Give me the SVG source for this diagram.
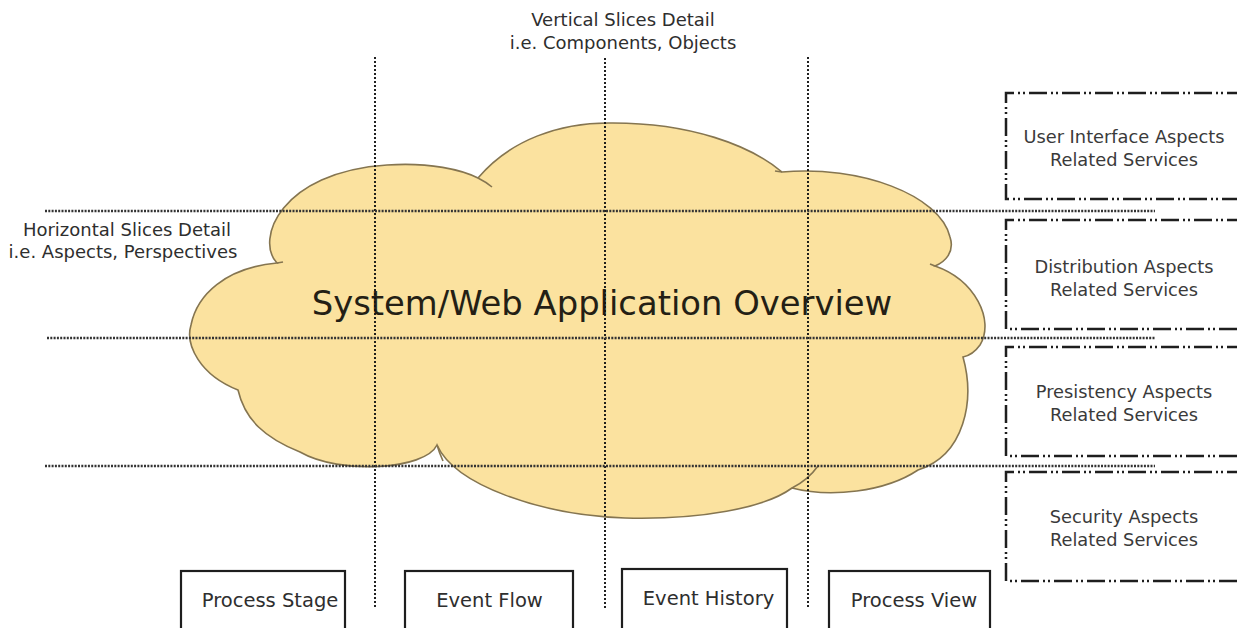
<svg xmlns="http://www.w3.org/2000/svg" width="1237" height="628" viewBox="0 0 1237 628">
<style>
text{font-family:"DejaVu Sans","Liberation Sans",sans-serif;fill:#2e2e2e;}
.small{font-size:18px;text-anchor:middle;}
.box{font-size:17.8px;text-anchor:middle;fill:#3a3a3a;}
.btm{font-size:19.5px;text-anchor:middle;fill:#2e2e2e;}
.title{font-size:33.8px;text-anchor:middle;fill:#241f15;}
.cloud{fill:#FBE29F;stroke:#857550;stroke-width:1.6;}
.tail{fill:none;stroke:#857550;stroke-width:1.6;}
.dd{fill:none;stroke:#1e1e1e;stroke-width:2.5;stroke-dasharray:18 4 2 3 2 4;}
.solid{fill:#fff;stroke:#1e1e1e;stroke-width:2.2;}
.vdot{stroke:#151515;stroke-width:1.9;stroke-dasharray:2 2;fill:none;}
.hdot{stroke:#333;stroke-width:2.3;stroke-dasharray:2 1.3;fill:none;}
</style>
<rect width="1237" height="628" fill="#fff"/>
<g id="cloud">
<path class="cloud" d="M277,263 C255,240 280,172 387,165 C430,162 462,170 478,178 C510,140 560,122 613,123 C690,123 750,145 782,172 C860,165 940,195 950,237 C955,252 945,262 935,266 C975,280 995,320 980,345 C975,352 968,356 963,357 C975,400 965,455 918,470 C885,492 830,498 792,488 C765,508 700,520 625,518 C540,515 455,485 437,445 C425,470 340,475 300,452 C265,438 245,420 238,390 C200,375 185,345 191,325 C197,295 225,268 277,263 Z"/>
<path class="tail" d="M478,178 Q486,182 492,187"/>
<path class="tail" d="M782,172 L775,171"/>
<path class="tail" d="M935,266 L930,264"/>
<path class="tail" d="M437,445 Q439,452 443,461"/>
<path class="tail" d="M792,488 Q808,480 818,466"/>
<path class="tail" d="M277,263 L283,262"/>
<text class="title" x="602" y="315">System/Web Application Overview</text>
</g>
<g id="vertical-label">
<text class="small" x="623" y="26">Vertical Slices Detail</text>
<text class="small" x="623" y="49">i.e. Components, Objects</text>
</g>
<g id="horizontal-label">
<text class="small" x="127" y="236">Horizontal Slices Detail</text>
<text class="small" x="123" y="258">i.e. Aspects, Perspectives</text>
</g>
<g id="connectors">
<line class="vdot" x1="375" y1="57" x2="375" y2="609"/>
<line class="vdot" x1="605" y1="58" x2="605" y2="609"/>
<line class="vdot" x1="808" y1="57" x2="808" y2="609"/>
<line class="hdot" x1="45" y1="211" x2="1155" y2="211"/>
<line class="hdot" x1="47" y1="338" x2="1155" y2="338"/>
<line class="hdot" x1="45" y1="466" x2="1155" y2="466"/>
</g>
<g id="ui-aspects">
<path class="dd" d="M1245,93 H1006 V199 H1245"/>
<text class="box" x="1124" y="143">User Interface Aspects</text>
<text class="box" x="1124" y="166">Related Services</text>
</g>
<g id="distribution-aspects">
<path class="dd" d="M1245,220 H1006 V329 H1245"/>
<text class="box" x="1124" y="273">Distribution Aspects</text>
<text class="box" x="1124" y="296">Related Services</text>
</g>
<g id="persistency-aspects">
<path class="dd" d="M1245,347 H1006 V456 H1245"/>
<text class="box" x="1124" y="398">Presistency Aspects</text>
<text class="box" x="1124" y="421">Related Services</text>
</g>
<g id="security-aspects">
<path class="dd" d="M1245,472 H1006 V581 H1245"/>
<text class="box" x="1124" y="523">Security Aspects</text>
<text class="box" x="1124" y="546">Related Services</text>
</g>
<g id="process-stage">
<rect class="solid" x="181" y="571" width="164" height="70"/>
<text class="btm" x="270" y="607">Process Stage</text>
</g>
<g id="event-flow">
<rect class="solid" x="405" y="571" width="168" height="70"/>
<text class="btm" x="489.5" y="607">Event Flow</text>
</g>
<g id="event-history">
<rect class="solid" x="622" y="569" width="165" height="72"/>
<text class="btm" x="708.5" y="605">Event History</text>
</g>
<g id="process-view">
<rect class="solid" x="829" y="571" width="161" height="70"/>
<text class="btm" x="914" y="607">Process View</text>
</g>
</svg>
